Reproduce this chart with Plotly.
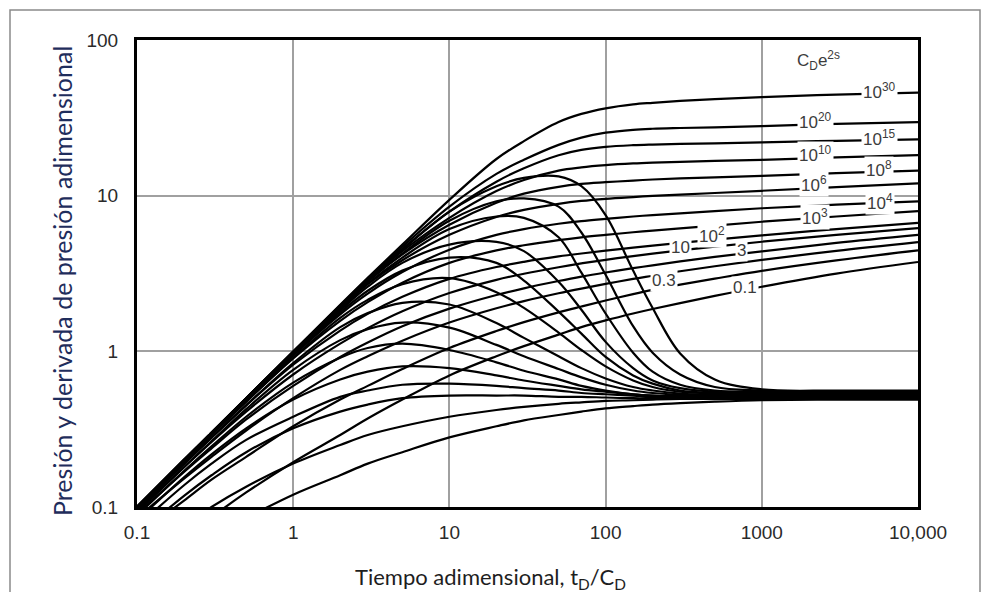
import plotly.graph_objects as go
import math

# Dimensionless time grid t_D/C_D
t_grid = [0.1, 0.2, 0.3, 0.5, 1, 2, 3, 5, 10, 20, 30, 50, 70, 100, 150, 200, 300, 500, 1000, 3000, 10000]

# Pressure curves p_D for each C_D e^{2s}
p_1e30 = [0.1, 0.2, 0.3, 0.5, 1.0, 1.99, 2.97, 4.85, 9.4, 17.2, 22.4, 29.7, 33.5, 36.4, 38.6, 39.5, 40.6, 41.7, 43.0, 44.6, 45.9]
p_1e20 = [0.1, 0.2, 0.3, 0.5, 0.99, 1.97, 2.93, 4.7, 8.5, 13.8, 17.0, 21.2, 23.6, 25.4, 26.5, 26.9, 27.2, 27.5, 28.0, 28.9, 29.7]
p_1e15 = [0.1, 0.2, 0.3, 0.5, 0.99, 1.96, 2.9, 4.55, 7.9, 12.3, 15.0, 18.2, 19.7, 20.6, 21.1, 21.3, 21.5, 21.7, 22.0, 22.5, 23.0]
p_1e10 = [0.1, 0.2, 0.3, 0.5, 0.98, 1.95, 2.87, 4.4, 7.2, 10.7, 12.6, 14.5, 15.2, 15.7, 16.1, 16.3, 16.5, 16.75, 17.0, 17.6, 18.2]
p_1e8 = [0.1, 0.2, 0.3, 0.49, 0.97, 1.93, 2.83, 4.2, 6.5, 9.0, 10.3, 11.4, 11.9, 12.2, 12.5, 12.7, 12.9, 13.1, 13.4, 13.95, 14.5]
p_1e6 = [0.1, 0.2, 0.3, 0.49, 0.96, 1.88, 2.7, 3.85, 5.6, 7.3, 8.1, 8.85, 9.25, 9.55, 9.8, 9.96, 10.15, 10.4, 10.75, 11.35, 12.0]
p_1e4 = [0.099, 0.198, 0.296, 0.485, 0.94, 1.73, 2.35, 3.23, 4.5, 5.6, 6.1, 6.6, 6.87, 7.1, 7.35, 7.5, 7.7, 7.95, 8.3, 8.75, 9.2]
p_1e3 = [0.098, 0.196, 0.29, 0.475, 0.9, 1.57, 2.07, 2.76, 3.7, 4.45, 4.8, 5.18, 5.4, 5.6, 5.82, 5.97, 6.17, 6.42, 6.8, 7.35, 7.95]
p_1e2 = [0.097, 0.19, 0.28, 0.45, 0.82, 1.36, 1.74, 2.24, 2.92, 3.48, 3.76, 4.07, 4.25, 4.43, 4.64, 4.78, 4.97, 5.22, 5.55, 6.1, 6.68]
p_10 = [0.094, 0.18, 0.262, 0.41, 0.71, 1.12, 1.41, 1.81, 2.37, 2.88, 3.15, 3.47, 3.67, 3.87, 4.09, 4.24, 4.45, 4.71, 5.06, 5.6, 6.18]
p_3 = [0.09, 0.168, 0.238, 0.365, 0.6, 0.92, 1.14, 1.45, 1.88, 2.3, 2.54, 2.83, 3.02, 3.21, 3.42, 3.57, 3.78, 4.04, 4.39, 4.97, 5.6]
p_1 = [0.085, 0.152, 0.21, 0.31, 0.5, 0.76, 0.93, 1.17, 1.53, 1.89, 2.1, 2.36, 2.53, 2.71, 2.92, 3.06, 3.27, 3.52, 3.87, 4.42, 5.03]
p_03 = [0.065, 0.11, 0.15, 0.21, 0.33, 0.49, 0.6, 0.77, 1.05, 1.35, 1.54, 1.78, 1.94, 2.12, 2.33, 2.48, 2.68, 2.93, 3.29, 3.84, 4.45]
p_01 = [0.035, 0.063, 0.086, 0.124, 0.194, 0.29, 0.37, 0.49, 0.7, 0.93, 1.08, 1.28, 1.43, 1.58, 1.75, 1.87, 2.04, 2.27, 2.6, 3.16, 3.75]

# Pressure-derivative curves
d_1e30 = [0.1, 0.2, 0.3, 0.5, 0.99, 1.95, 2.85, 4.5, 7.9, 11.5, 13.0, 13.3, 11.5, 7.5, 3.3, 1.9, 0.97, 0.66, 0.57, 0.56, 0.56]
d_1e20 = [0.1, 0.2, 0.3, 0.5, 0.98, 1.92, 2.8, 4.25, 6.9, 9.2, 9.6, 8.5, 5.8, 3.1, 1.45, 0.98, 0.71, 0.59, 0.56, 0.55, 0.55]
d_1e15 = [0.1, 0.2, 0.3, 0.5, 0.97, 1.88, 2.72, 4.0, 6.1, 7.35, 7.2, 5.4, 3.2, 1.75, 0.98, 0.74, 0.61, 0.56, 0.55, 0.545, 0.545]
d_1e10 = [0.1, 0.2, 0.3, 0.49, 0.96, 1.83, 2.6, 3.7, 4.85, 5.05, 4.4, 2.8, 1.85, 1.15, 0.78, 0.65, 0.58, 0.55, 0.54, 0.54, 0.54]
d_1e8 = [0.1, 0.2, 0.3, 0.49, 0.95, 1.78, 2.45, 3.3, 4.0, 3.7, 2.85, 1.8, 1.3, 0.92, 0.7, 0.62, 0.56, 0.54, 0.535, 0.535, 0.535]
d_1e6 = [0.099, 0.198, 0.293, 0.475, 0.91, 1.64, 2.14, 2.7, 2.95, 2.4, 1.9, 1.32, 1.02, 0.8, 0.65, 0.59, 0.55, 0.535, 0.53, 0.53, 0.53]
d_1e4 = [0.095, 0.188, 0.278, 0.45, 0.84, 1.43, 1.76, 2.05, 2.0, 1.52, 1.22, 0.93, 0.78, 0.67, 0.59, 0.56, 0.535, 0.525, 0.525, 0.525, 0.525]
d_1e3 = [0.092, 0.18, 0.264, 0.425, 0.76, 1.18, 1.39, 1.53, 1.42, 1.1, 0.93, 0.77, 0.68, 0.61, 0.56, 0.54, 0.525, 0.52, 0.52, 0.52, 0.52]
d_1e2 = [0.088, 0.17, 0.245, 0.38, 0.63, 0.91, 1.05, 1.12, 1.02, 0.85, 0.75, 0.66, 0.6, 0.56, 0.53, 0.52, 0.515, 0.515, 0.515, 0.515, 0.515]
d_10 = [0.082, 0.155, 0.218, 0.32, 0.49, 0.66, 0.74, 0.8, 0.78, 0.7, 0.65, 0.6, 0.57, 0.55, 0.53, 0.52, 0.51, 0.51, 0.51, 0.51, 0.51]
d_3 = [0.075, 0.138, 0.19, 0.27, 0.38, 0.51, 0.56, 0.61, 0.62, 0.6, 0.58, 0.56, 0.54, 0.53, 0.52, 0.51, 0.505, 0.505, 0.505, 0.505, 0.505]
d_1 = [0.066, 0.118, 0.16, 0.225, 0.32, 0.41, 0.455, 0.5, 0.52, 0.52, 0.52, 0.51, 0.51, 0.505, 0.5, 0.5, 0.5, 0.5, 0.5, 0.5, 0.5]
d_03 = [0.045, 0.075, 0.1, 0.135, 0.19, 0.25, 0.29, 0.33, 0.38, 0.42, 0.44, 0.46, 0.47, 0.48, 0.485, 0.49, 0.495, 0.495, 0.495, 0.495, 0.495]
d_01 = [0.03, 0.05, 0.065, 0.085, 0.12, 0.16, 0.19, 0.225, 0.28, 0.33, 0.36, 0.39, 0.41, 0.43, 0.445, 0.455, 0.465, 0.475, 0.485, 0.49, 0.49]

pressure_series = [p_1e30, p_1e20, p_1e15, p_1e10, p_1e8, p_1e6, p_1e4, p_1e3, p_1e2, p_10, p_3, p_1, p_03, p_01]
derivative_series = [d_1e30, d_1e20, d_1e15, d_1e10, d_1e8, d_1e6, d_1e4, d_1e3, d_1e2, d_10, d_3, d_1, d_03, d_01]

# Curve labels (C_D e^{2s}) with label positions (t_D/C_D, value)
label_text = ["10<sup>30</sup>", "10<sup>20</sup>", "10<sup>15</sup>", "10<sup>10</sup>", "10<sup>8</sup>",
              "10<sup>6</sup>", "10<sup>4</sup>", "10<sup>3</sup>", "10<sup>2</sup>", "10", "3", "0.3", "0.1"]
label_t = [5700, 2200, 5700, 2200, 5600, 2150, 5700, 2200, 480, 300, 740, 236, 780]
label_v = [47.2, 30.4, 23.6, 18.6, 14.9, 11.8, 9.05, 7.25, 5.55, 4.65, 4.45, 2.85, 2.58]

x_tickvals = [0.1, 1, 10, 100, 1000, 10000]
x_ticktext = ["0.1", "1", "10", "100", "1000", "10,000"]
y_tickvals = [0.1, 1, 10, 100]
y_ticktext = ["0.1", "1", "10", "100"]

fig = go.Figure()
for s in pressure_series + derivative_series:
    fig.add_trace(go.Scatter(x=t_grid, y=s, mode="lines",
                             line=dict(color="black", width=2.2, shape="spline", smoothing=1.0),
                             hoverinfo="skip", showlegend=False))

# page is offset by the browser's 8px body margin
OFF = 8
W, H = 989 - OFF, 592 - OFF
L, R, T, B = 137, 918, 40, 507   # plot area in page pixels

def px_to_paper(px, py):
    return (px - L) / (R - L), (B - py) / (B - T)

ann = []
for txt, tx, tv in zip(label_text, label_t, label_v):
    ann.append(dict(x=math.log10(tx), y=math.log10(tv), xref="x", yref="y", text=txt,
                    showarrow=False, bgcolor="white", borderpad=1,
                    xanchor="center", yanchor="middle",
                    font=dict(family="Liberation Sans, Arial", size=17, color="#3c3c3c")))
ann.append(dict(x=math.log10(2300), y=math.log10(74), xref="x", yref="y",
                text="C<sub>D</sub>e<sup>2s</sup>", showarrow=False,
                xanchor="center", yanchor="middle",
                font=dict(family="Liberation Sans, Arial", size=17, color="#3c3c3c")))

xt, yt = px_to_paper(490, 578)
ann.append(dict(x=xt, y=yt, xref="paper", yref="paper", showarrow=False,
                xanchor="center", yanchor="middle",
                text="Tiempo adimensional, t<sub>D</sub>/C<sub>D</sub>",
                font=dict(family="Lato, Open Sans, sans-serif", size=22, color="#1e1e1e")))
xt, yt = px_to_paper(62, 281)
ann.append(dict(x=xt, y=yt, xref="paper", yref="paper", showarrow=False, textangle=-90,
                xanchor="center", yanchor="middle",
                text="Presión y derivada de presión adimensional",
                font=dict(family="Lato, Open Sans, sans-serif", size=25, color="#1f2d5c")))

fx0, fy0 = px_to_paper(10, 10)
fx1, fy1 = px_to_paper(980, 600)

fig.update_layout(
    width=W, height=H,
    margin=dict(l=L - OFF, r=(W + OFF) - R, t=T - OFF, b=(H + OFF) - B, pad=0),
    paper_bgcolor="white", plot_bgcolor="white",
    annotations=ann,
    shapes=[dict(type="rect", xref="paper", yref="paper", x0=fx0, y0=fy1, x1=fx1, y1=fy0,
                 line=dict(color="#8a8a8a", width=1.5), layer="below")],
    xaxis=dict(type="log", range=[-1, 4], tickvals=x_tickvals, ticktext=x_ticktext,
               showgrid=True, gridcolor="#a0a0a0", gridwidth=1.5,
               showline=True, linecolor="black", linewidth=3, mirror=True,
               ticks="outside", ticklen=6, tickcolor="rgba(0,0,0,0)", zeroline=False,
               tickfont=dict(family="Liberation Sans, Arial", size=19, color="#2a2a2a")),
    yaxis=dict(type="log", range=[-1, 2], tickvals=y_tickvals, ticktext=y_ticktext,
               showgrid=True, gridcolor="#a0a0a0", gridwidth=1.5,
               showline=True, linecolor="black", linewidth=3, mirror=True,
               ticks="outside", ticklen=12, tickcolor="rgba(0,0,0,0)", zeroline=False,
               tickfont=dict(family="Liberation Sans, Arial", size=19, color="#2a2a2a")),
)

fig.write_html("out.html")
